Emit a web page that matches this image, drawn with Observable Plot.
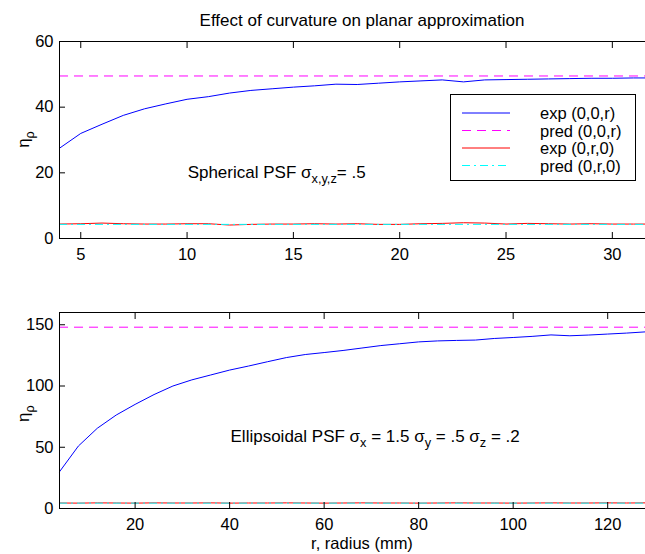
<!DOCTYPE html>
<html><head><meta charset="utf-8">
<script src="https://cdn.jsdelivr.net/npm/d3@7"></script>
<script src="https://cdn.jsdelivr.net/npm/@observablehq/plot@0.6"></script>
<style>
html,body{margin:0;background:#fff;overflow:hidden;}
#wrap{position:relative;width:645px;height:554px;overflow:hidden;background:#fff;font-family:"Liberation Sans",Arial,sans-serif;}
#wrap svg{position:absolute;left:0;max-width:none;}
</style></head><body><div id="wrap"></div>
<script>
// ---------- data ----------
const rTop = [4,5,6,7,8,9,10,11,12,13,14,15,16,17,18,19,20,21,22,23,24,25,26,27,28,29,30,31,32];
const expTopAxial = [27.5,32,34.8,37.5,39.5,41,42.4,43.2,44.3,45.1,45.6,46.1,46.5,47,46.9,47.3,47.7,48,48.3,47.7,48.3,48.4,48.5,48.6,48.7,48.8,48.8,48.9,48.9];
const expTopLateral = [4.4,4.5,4.7,4.5,4.4,4.4,4.5,4.5,4.1,4.3,4.4,4.4,4.5,4.4,4.5,4.3,4.3,4.5,4.6,4.8,4.7,4.4,4.6,4.5,4.4,4.5,4.4,4.4,4.4];
const predTopAxial = [49.5];
const predTopLateral = [4.3];

const rBot = [4,8,12,16,20,24,28,32,36,40,44,48,52,56,60,64,68,72,76,80,84,88,92,96,100,104,108,112,116,120,124,128];
const expBotAxial = [30,51,65.5,76.3,85,93,100,105,109,113,116.3,119.8,123.2,125.7,127.3,129,131,133,134.5,136,136.8,137.2,137.5,138.8,139.6,140.5,141.7,141,141.6,142.4,143.2,144.2];
const expBotLateral = [4.5,4.4,4.6,4.5,4.4,4.6,4.5,4.5,4.6,4.4,4.5,4.5,4.6,4.5,4.4,4.5,4.6,4.5,4.5,4.4,4.5,4.6,4.5,4.5,4.4,4.5,4.6,4.5,4.5,4.6,4.5,4.6];
const predBotAxial = [148];
const predBotLateral = [4.4];

const xTicksTop = [5,10,15,20,25,30];
const yTicksTop = [0,20,40,60];
const xTicksBot = [20,40,60,80,100,120];
const yTicksBot = [0,50,100,150];

const legendLabels = ["exp (0,0,r)","pred (0,0,r)","exp (0,r,0)","pred (0,r,0)"];
const titleText = "Effect of curvature on planar approximation";
const xLabelText = "r, radius (mm)";

// ---------- styles ----------
const FONT = "Liberation Sans, Arial, sans-serif";
const FS = 16.5;
const C = {expA:"#0000ff", predA:"#ff00ff", expL:"#ff0000", predL:"#00ffff"};
const DASH = {predA:"9,6", predL:"8,4,2,4"};
const AXES_CENTER = 362;

function panel(o){
  return Plot.plot({
    width: 645, height: o.height,
    marginLeft: 59, marginRight: 0, marginTop: o.mt, marginBottom: o.mb,
    style: {fontFamily: FONT, fontSize: FS+"px", color:"#000", background:"transparent", overflow:"hidden"},
    x: {domain: o.xDomain, axis: null},
    y: {domain: o.yDomain, axis: null},
    marks: [
      Plot.lineY(o.expA, {x: o.r, stroke: C.expA, strokeWidth: 1}),
      Plot.ruleY(o.predA, {stroke: C.predA, strokeWidth: 1, strokeDasharray: DASH.predA}),
      Plot.lineY(o.expL, {x: o.r, stroke: C.expL, strokeWidth: 1}),
      Plot.ruleY(o.predL, {stroke: C.predL, strokeWidth: 1, strokeDasharray: DASH.predL}),
      Plot.ruleY([o.yDomain[1]], {stroke:"#000"}),
      Plot.ruleY([o.yDomain[0]], {stroke:"#000"}),
      Plot.ruleX([o.xDomain[0]], {stroke:"#000"}),
      Plot.axisX(o.xTicks, {anchor:"bottom", tickSize:0, tickPadding:o.pad, label:null, fill:"#000"}),
      Plot.axisX(o.xTicks, {anchor:"bottom", tickSize:6, dy:-6, text:null, label:null, stroke:"#000"}),
      Plot.axisX(o.xTicks, {anchor:"top", tickSize:6, dy:6, text:null, label:null, stroke:"#000"}),
      Plot.axisY(o.yTicks, {anchor:"left", tickSize:0, tickPadding:6, label:null, fill:"#000"}),
      Plot.axisY(o.yTicks, {anchor:"left", tickSize:6, dx:6, text:null, label:null, stroke:"#000"})
    ]
  });
}

function richText(g, x, y, segs, size, opts={}){
  const t = g.append("text").attr("x", x).attr("y", y)
    .attr("font-family", FONT).attr("font-size", size).attr("fill","#000")
    .attr("text-anchor", opts.anchor || "start");
  if (opts.transform) t.attr("transform", opts.transform);
  let shift = 0;
  segs.forEach(s => {
    const want = s.sub ? 5 : 0;
    t.append("tspan").attr("dy", want - shift).attr("font-size", s.sub ? size*0.75 : size).text(s.t);
    shift = want;
  });
  return t;
}

const wrap = document.getElementById("wrap");

// ---------- top panel ----------
const p1 = panel({height:270, mt:41, mb:32, pad:10, xDomain:[4,31.56], yDomain:[0,60],
  r:rTop, expA:expTopAxial, expL:expTopLateral, predA:predTopAxial, predL:predTopLateral,
  xTicks:xTicksTop, yTicks:yTicksTop});
p1.style.top = "0px";
wrap.appendChild(p1);
const g1 = d3.select(p1).append("g");
const x1 = p1.scale("x"), y1 = p1.scale("y");
g1.append("text").attr("x", AXES_CENTER).attr("y", 26)
  .attr("text-anchor","middle").attr("font-family",FONT).attr("font-size",17).attr("fill","#000").text(titleText);
richText(g1, 0, 0, [{t:"η"},{t:"ρ",sub:true}], 17, {anchor:"middle", transform:`translate(28.5,${y1.apply(30)}) rotate(-90)`});
richText(g1, x1.apply(10.05), y1.apply(20)+6, [{t:"Spherical PSF σ"},{t:"x,y,z",sub:true},{t:"= .5"}], 17);

// legend
const lg = g1.append("g");
lg.append("rect").attr("x",450.5).attr("y",94.5).attr("width",185).attr("height",86).attr("fill","#fff").attr("stroke","#000");
const keys = ["expA","predA","expL","predL"];
const rowsY = [113,130.5,148,165.5];
keys.forEach((k,i)=>{
  lg.append("line").attr("x1",462).attr("x2",510).attr("y1",rowsY[i]).attr("y2",rowsY[i])
    .attr("stroke",C[k]).attr("stroke-width",1).attr("stroke-dasharray",DASH[k]||null);
  lg.append("text").attr("x",540).attr("y",rowsY[i]+6).attr("text-anchor","start")
    .attr("font-family",FONT).attr("font-size",FS).attr("fill","#000").text(legendLabels[i]);
});

// ---------- bottom panel ----------
const p2 = panel({height:274, mt:32, mb:46, pad:10, xDomain:[4,128], yDomain:[0,160],
  r:rBot, expA:expBotAxial, expL:expBotLateral, predA:predBotAxial, predL:predBotLateral,
  xTicks:xTicksBot, yTicks:yTicksBot});
p2.style.top = "280px";
wrap.appendChild(p2);
const g2 = d3.select(p2).append("g");
const x2 = p2.scale("x"), y2 = p2.scale("y");
richText(g2, 0, 0, [{t:"η"},{t:"ρ",sub:true}], 17, {anchor:"middle", transform:`translate(28.5,${y2.apply(77)}) rotate(-90)`});
richText(g2, x2.apply(40.3), y2.apply(59)+6, [{t:"Ellipsoidal PSF σ"},{t:"x",sub:true},{t:" = 1.5 σ"},{t:"y",sub:true},{t:" = .5 σ"},{t:"z",sub:true},{t:" = .2"}], 17);
g2.append("text").attr("x",AXES_CENTER).attr("y",269)
  .attr("text-anchor","middle").attr("font-family",FONT).attr("font-size",FS).attr("fill","#000").text(xLabelText);
</script></body></html>
